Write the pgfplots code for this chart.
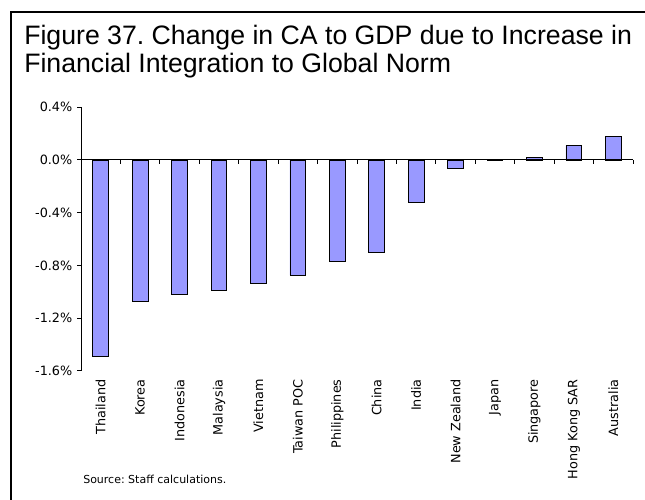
\documentclass[border=0pt]{standalone}
\usepackage{fontspec}
\setmainfont{Liberation Sans}
\newfontfamily\tickfont{DejaVu Sans}
\usepackage{pgfplots}
\pgfplotsset{compat=1.18}
\definecolor{barcol}{RGB}{153,153,255}
\frenchspacing
\begin{document}
\begin{tikzpicture}
\useasboundingbox (0,0) rectangle (645*0.75pt,-499*0.75pt);
\draw[line width=1.5pt] (11*0.75pt,-12*0.75pt) rectangle (700*0.75pt,-560*0.75pt);
\node[anchor=base west, inner sep=0pt, font=\fontsize{20}{23}\selectfont] at (24*0.75pt,-45*0.75pt) {Figure 37. Change in CA to GDP due to Increase in};
\node[anchor=base west, inner sep=0pt, font=\fontsize{20}{23}\selectfont] at (24*0.75pt,-72.5*0.75pt) {Financial Integration to Global Norm};
\begin{axis}[
  at={(81*0.75pt,-370.7*0.75pt)}, anchor=south west,
  scale only axis, width=414pt, height=197.55pt,
  xmin=-0.5, xmax=13.5, ymin=-1.6, ymax=0.4,
  axis y line*=left, axis x line*=bottom,
  x axis line style={draw=none},
  y axis line style={line width=0.75pt, -},
  ytick={-1.6,-1.2,-0.8,-0.4,0,0.4},
  yticklabels={-1.6\%,-1.2\%,-0.8\%,-0.4\%,0.0\%,0.4\%},
  tick align=outside, major tick length=3pt,
  y tick style={black, line width=0.75pt},
  xtick={0,...,13},
  xticklabels={Thailand,Korea,Indonesia,Malaysia,Vietnam,Taiwan POC,Philippines,China,India,New Zealand,Japan,Singapore,Hong Kong SAR,Australia},
  x tick style={draw=none},
  xticklabel style={rotate=90, anchor=east, font=\tickfont\fontsize{9.6}{11}\selectfont},
  yticklabel style={font=\tickfont\fontsize{9.6}{11}\selectfont},
  ybar, bar width=11.8pt,
  clip=false,
]
\addplot[fill=barcol, draw=black, line width=0.6pt] coordinates {
(0,-1.49) (1,-1.07) (2,-1.02) (3,-0.99) (4,-0.935) (5,-0.875) (6,-0.77)
(7,-0.70) (8,-0.32) (9,-0.065) (10,0.004) (11,0.018) (12,0.11) (13,0.177)};
\draw[line width=0.75pt] (axis cs:-0.5,0) -- (axis cs:13.5,0);
\pgfplotsinvokeforeach{0.5,1.5,...,13.5}{\draw[line width=0.75pt] (axis cs:#1,0) -- ++(0pt,-3pt);}
\end{axis}
\node[anchor=base west, inner sep=0pt, font=\tickfont\fontsize{8.25}{10}\selectfont] at (83*0.75pt,-483.3*0.75pt) {Source: Staff calculations.};
\end{tikzpicture}
\end{document}
